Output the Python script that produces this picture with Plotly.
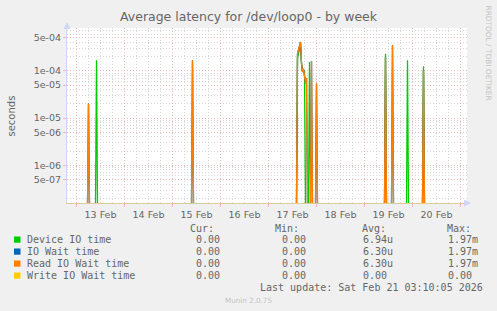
import numpy as np
import pandas as pd
import plotly.graph_objects as go

# ---------------- data ----------------
device_times = [
    "2026-02-12 19:15", "2026-02-13 09:30", "2026-02-13 10:00", "2026-02-13 10:30",
    "2026-02-17 14:00", "2026-02-17 14:30", "2026-02-17 15:00", "2026-02-17 15:30",
    "2026-02-17 16:00", "2026-02-17 16:30", "2026-02-17 17:00", "2026-02-17 17:30",
    "2026-02-17 18:00", "2026-02-17 18:30", "2026-02-17 20:00", "2026-02-17 20:30",
    "2026-02-17 21:00", "2026-02-19 10:00", "2026-02-19 10:30", "2026-02-19 11:00",
    "2026-02-19 21:00", "2026-02-19 21:30", "2026-02-19 22:00", "2026-02-20 05:00",
    "2026-02-20 05:30", "2026-02-20 06:00", "2026-02-21 03:15",
]
device_vals = [
    0, 0, 1.68e-4, 0,
    0, 1.9e-4, 2.3e-4, 2.9e-4,
    3.6e-4, 1.4e-4, 1.0e-4, 1.0e-4,
    1.0e-4, 0, 0, 1.55e-4,
    0, 0, 2.3e-4, 0,
    0, 1.68e-4, 0, 0,
    1.26e-4, 0, 0,
]

read_times = [
    "2026-02-12 19:15", "2026-02-13 05:30", "2026-02-13 06:00", "2026-02-13 06:30",
    "2026-02-15 09:30", "2026-02-15 10:00", "2026-02-15 10:30",
    "2026-02-17 14:00", "2026-02-17 14:30", "2026-02-17 15:00", "2026-02-17 15:30",
    "2026-02-17 16:00", "2026-02-17 16:30", "2026-02-17 17:00", "2026-02-17 17:30",
    "2026-02-17 18:00", "2026-02-17 18:30", "2026-02-17 19:00", "2026-02-17 19:30",
    "2026-02-17 21:00", "2026-02-17 21:30", "2026-02-17 22:00",
    "2026-02-17 23:30", "2026-02-18 00:00", "2026-02-18 00:30",
    "2026-02-19 10:00", "2026-02-19 10:30", "2026-02-19 11:00",
    "2026-02-19 13:30", "2026-02-19 14:00", "2026-02-19 14:30",
    "2026-02-20 05:00", "2026-02-20 05:30", "2026-02-20 06:00",
    "2026-02-21 03:15",
]
read_vals = [
    0, 0, 2.05e-5, 0,
    0, 1.68e-4, 0,
    0, 2.3e-4, 2.8e-4, 3.4e-4,
    4.1e-4, 1.5e-4, 9.5e-5, 1.1e-4,
    6.5e-5, 5.5e-5, 7.0e-5, 0,
    0, 1.62e-4, 0,
    0, 5.4e-5, 0,
    0, 2.0e-4, 0,
    0, 3.5e-4, 0,
    0, 1.03e-4, 0,
    0,
]

iowait_times = list(read_times)
iowait_vals = list(read_vals)

write_times = ["2026-02-12 19:15", "2026-02-21 03:15"]
write_vals = [0, 0]

series_names = ["Device IO time", "IO Wait time", "Read IO Wait time", "Write IO Wait time"]
series_colors = ["#00cc00", "#0066b3", "#ff8000", "#ffcc00"]
cur_vals = ["0.00", "0.00", "0.00", "0.00"]
min_vals = ["0.00", "0.00", "0.00", "0.00"]
avg_vals = ["6.94u", "6.30u", "6.30u", "0.00"]
max_vals = ["1.97m", "1.97m", "1.97m", "0.00"]

y_tick_vals = [5e-7, 1e-6, 5e-6, 1e-5, 5e-5, 1e-4, 5e-4]
y_tick_text = ["5e-07", "1e-06", "5e-06", "1e-05", "5e-05", "1e-04", "5e-04"]

x_start, x_end = "2026-02-12 19:15", "2026-02-21 03:15"
y_lo, y_hi = 1.6e-7, 8.1e-4

# ---------------- figure ----------------
W, H = 497, 311
ML, MR, MT, MB = 67, 30, 28, 108
PW, PH = W - ML - MR, H - MT - MB

def px(x):
    return (x - ML) / PW

def py(y):
    return (H - MB - y) / PH

log_lo, log_hi = np.log10(y_lo), np.log10(y_hi)
floor = 10 ** (log_lo - 0.03)  # zero values sit just below the visible range

fig = go.Figure()
data = [
    (device_times, device_vals),
    (iowait_times, iowait_vals),
    (read_times, read_vals),
    (write_times, write_vals),
]
for (t, v), name, col in zip(data, series_names, series_colors):
    yv = np.maximum(np.array(v, dtype=float), floor)
    fig.add_trace(go.Scatter(
        x=pd.to_datetime(t), y=yv, mode="lines", name=name,
        line=dict(color=col, width=1.3), showlegend=False, hoverinfo="skip",
    ))

# minor log grid values
minor_vals = []
for k in range(-8, -2):
    for m in [2, 3, 4, 6, 7, 8, 9]:
        v = m * 10.0 ** k
        if y_lo < v < y_hi:
            minor_vals.append(v)

MGRID = "#eeb8b8"
GRID = "#d8d8d8"
FONT = "#666666"
AXIS = "#CFD6F8"

fig.update_layout(
    width=W, height=H,
    margin=dict(l=ML, r=MR, t=MT, b=MB, pad=0),
    paper_bgcolor="#f0f0f0", plot_bgcolor="#ffffff",
    font=dict(family="DejaVu Sans", color=FONT, size=9.5),
    title=dict(text="Average latency for /dev/loop0 - by week",
               x=0.5, xref="container", xanchor="center",
               y=1 - 17 / H, yref="container", yanchor="middle",
               font=dict(family="DejaVu Sans", size=12.5, color=FONT)),
    xaxis=dict(
        type="date", range=[x_start, x_end],
        tick0="2026-02-13", dtick=86400000, tickformat="%d %b",
        ticklabelmode="period",
        showgrid=True, gridcolor=MGRID, griddash="1px,2px", gridwidth=1,
        ticks="outside", ticklen=3, tickcolor=MGRID,
        minor=dict(dtick=6 * 3600000, tick0="2026-02-13", showgrid=True,
                   gridcolor=GRID, griddash="1px,2px", gridwidth=1, ticks=""),
        showline=True, linecolor="#dccc98", linewidth=1,
        zeroline=False, tickfont=dict(size=9.5, color=FONT),
        layer="below traces",
    ),
    yaxis=dict(
        type="log", range=[log_lo, log_hi],
        tickmode="array", tickvals=y_tick_vals, ticktext=y_tick_text,
        showgrid=True, gridcolor=MGRID, griddash="1px,2px", gridwidth=1,
        ticks="outside", ticklen=3, tickcolor=MGRID,
        minor=dict(tickmode="array", tickvals=minor_vals, showgrid=True,
                   gridcolor=GRID, griddash="1px,2px", gridwidth=1, ticks=""),
        showline=True, linecolor=AXIS, linewidth=1,
        zeroline=False, tickfont=dict(size=9.5, color=FONT),
        layer="below traces",
    ),
)

ann = []
# axis arrows
ann.append(dict(x=0, y=1 + 6 / PH, xref="paper", yref="paper", ax=0, ay=8,
                text="", showarrow=True, arrowhead=2, arrowsize=1.4,
                arrowwidth=1, arrowcolor=AXIS))
ann.append(dict(x=1 + 4 / PW, y=0, xref="paper", yref="paper", ax=-8, ay=0,
                text="", showarrow=True, arrowhead=2, arrowsize=1.4,
                arrowwidth=1, arrowcolor=AXIS))
# y axis title
ann.append(dict(x=px(11), y=py(115.5), xref="paper", yref="paper", text="seconds",
                textangle=-90, showarrow=False, xanchor="center", yanchor="middle",
                font=dict(family="DejaVu Sans", size=10, color=FONT)))
# right vertical credit
ann.append(dict(x=px(488.5), y=py(53), xref="paper", yref="paper",
                text="RRDTOOL / TOBI OETIKER", textangle=90, showarrow=False,
                xanchor="center", yanchor="middle",
                font=dict(family="DejaVu Sans", size=7.4, color="#c4c4c4")))

MONO = dict(family="DejaVu Sans Mono", size=10, color=FONT)

def txt(x, y, s, anchor="left", font=MONO):
    ann.append(dict(x=px(x), y=py(y), xref="paper", yref="paper", text=s,
                    showarrow=False, xanchor=anchor, yanchor="middle",
                    borderpad=0, borderwidth=0, font=font))

# header
for x, s in [(190, "Cur:"), (275, "Min:"), (362, "Avg:"), (447, "Max:")]:
    txt(x, 228.3, s)

row_y = [239.7, 251.7, 263.7, 275.7]
shapes = []
for i, name in enumerate(series_names):
    y = row_y[i]
    txt(26.5, y, name)
    txt(196, y, cur_vals[i])
    txt(282, y, min_vals[i])
    txt(363, y, avg_vals[i])
    txt(448, y, max_vals[i])
    shapes.append(dict(type="rect", xref="paper", yref="paper",
                       x0=px(14), x1=px(20.5), y0=py(y + 3), y1=py(y - 3.2),
                       fillcolor=series_colors[i], line=dict(width=0)))

txt(482.7, 287.3, "Last update: Sat Feb 21 03:10:05 2026", anchor="right")
txt(248, 300, "Munin 2.0.75", anchor="center",
    font=dict(family="DejaVu Sans", size=7.2, color="#c4c4c4"))

fig.update_layout(annotations=ann, shapes=shapes)

fig.write_html("out.html")
